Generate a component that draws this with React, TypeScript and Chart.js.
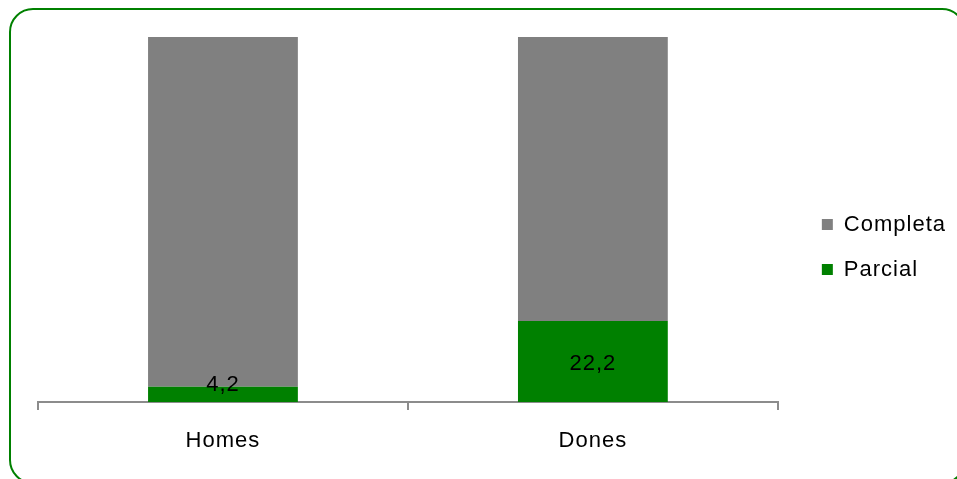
import React, { useEffect, useRef } from "react";
import { Chart, registerables } from "chart.js";

Chart.register(...registerables);

const categories = ["Homes", "Dones"];
const parcialValues = [4.2, 22.2];
const completaValues = [95.8, 77.8];
const seriesNames = ["Parcial", "Completa"];

const FONT = "'Liberation Sans', Arial, sans-serif";
const GREEN = "#008000";
const GRAY = "#808080";
const AXIS = "#8c8c8c";
const SPACING = "1px";

const spacingPlugin = {
  id: "spacing",
  beforeLayout(chart: any) {
    chart.ctx.letterSpacing = SPACING;
  },
  beforeDraw(chart: any) {
    chart.ctx.letterSpacing = SPACING;
  },
};

const labelPlugin = {
  id: "barLabels",
  afterDatasetsDraw(chart: any) {
    const ctx = chart.ctx;
    const meta = chart.getDatasetMeta(0);
    const data = chart.data.datasets[0].data;
    ctx.save();
    ctx.letterSpacing = SPACING;
    ctx.font = `22px ${FONT}`;
    ctx.fillStyle = "#000000";
    ctx.textAlign = "center";
    ctx.textBaseline = "middle";
    meta.data.forEach((bar: any, i: number) => {
      const center = (bar.y + bar.base) / 2;
      const y = Math.min(center + 2, bar.base - 17);
      ctx.fillText(String(data[i]).replace(".", ","), bar.x, y);
    });
    ctx.restore();
  },
};

export default function App() {
  const ref = useRef<HTMLCanvasElement>(null);
  useEffect(() => {
    if (!ref.current) return;
    const chart = new Chart(ref.current, {
      type: "bar",
      data: {
        labels: categories,
        datasets: [
          {
            label: seriesNames[0],
            data: parcialValues,
            backgroundColor: GREEN,
            borderWidth: 0,
            barPercentage: 0.405,
            categoryPercentage: 1,
          },
          {
            label: seriesNames[1],
            data: completaValues,
            backgroundColor: GRAY,
            borderWidth: 0,
            barPercentage: 0.405,
            categoryPercentage: 1,
          },
        ],
      },
      options: {
        animation: false,
        responsive: false,
        layout: { padding: { left: 38, top: 37, bottom: 22, right: 1 } },
        plugins: {
          tooltip: { enabled: false },
          legend: {
            position: "right",
            reverse: true,
            labels: {
              boxWidth: 11,
              boxHeight: 11,
              padding: 23,
              color: "#000000",
              font: { family: FONT, size: 22 },
            },
          },
        },
        scales: {
          x: {
            stacked: true,
            afterFit(scale: any) {
              scale.height = 55;
            },
            grid: {
              display: true,
              drawOnChartArea: false,
              drawTicks: true,
              tickLength: 8,
              color: AXIS,
              lineWidth: 2,
              offset: true,
            },
            border: { display: true, color: AXIS, width: 2 },
            ticks: {
              color: "#000000",
              padding: 18,
              font: { family: FONT, size: 22 },
            },
          },
          y: {
            stacked: true,
            position: "right",
            min: 0,
            max: 100,
            afterFit(scale: any) {
              scale.width = 21;
            },
            grid: { display: false },
            border: { display: false },
            ticks: { display: false },
          },
        },
      },
      plugins: [spacingPlugin, labelPlugin],
    });
    return () => chart.destroy();
  }, []);

  return (
    <div
      style={{
        position: "fixed",
        left: 0,
        top: 0,
        width: 957,
        height: 479,
        overflow: "hidden",
        background: "#ffffff",
      }}
    >
      <div
        style={{
          position: "absolute",
          left: 9,
          top: 8,
          width: 957,
          height: 476,
          boxSizing: "border-box",
          border: `2px solid ${GREEN}`,
          borderRadius: 24,
        }}
      />
      <canvas
        ref={ref}
        width={957}
        height={479}
        style={{ position: "absolute", left: 0, top: 0, width: 957, height: 479 }}
      />
    </div>
  );
}
